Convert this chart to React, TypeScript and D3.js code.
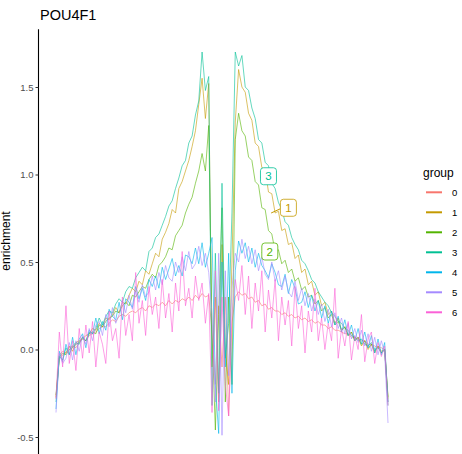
import React, { useEffect, useRef } from "react";
import * as d3 from "d3";

const groups = ["0", "1", "2", "3", "4", "5", "6"];
const colors = ["#F8766D", "#C49A00", "#53B400", "#00C094", "#00B6EB", "#A58AFF", "#FB61D7"];
const positions = d3.range(-250, 251, 5);
const yTicks = [-0.5, 0, 0.5, 1, 1.5];
const yTickLabels = ["-0.5", "0.0", "0.5", "1.0", "1.5"];

const g0 = [-0.28, -0.03, -0.01, -0.02, 0.01, 0.02, 0.01, 0.04, 0.06, 0.05,
  0.08, 0.09, 0.10, 0.12, 0.13, 0.13, 0.15, 0.17, 0.16, 0.19,
  0.20, 0.19, 0.21, 0.22, 0.21, 0.23, 0.24, 0.22, 0.25, 0.24,
  0.26, 0.25, 0.27, 0.25, 0.28, 0.26, 0.28, 0.27, 0.29, 0.28,
  0.30, 0.28, 0.31, 0.29, 0.32, 0.30, 0.31, 0.10, -0.20, 0.25,
  -0.10, 0.30, -0.38, 0.15, 0.30, 0.33, 0.31, 0.32, 0.29, 0.30,
  0.27, 0.28, 0.25, 0.26, 0.23, 0.24, 0.22, 0.22, 0.20, 0.21,
  0.19, 0.20, 0.18, 0.19, 0.17, 0.18, 0.16, 0.17, 0.15, 0.16,
  0.14, 0.14, 0.12, 0.13, 0.11, 0.11, 0.10, 0.09, 0.09, 0.07,
  0.07, 0.06, 0.05, 0.05, 0.03, 0.03, 0.02, 0.01, 0.01, 0.00,
  -0.30];
const g1 = [-0.27, -0.05, -0.03, -0.02, 0.02, -0.01, 0.04, 0.05, 0.06, 0.08,
  0.09, 0.12, 0.11, 0.15, 0.13, 0.18, 0.17, 0.20, 0.24, 0.21,
  0.27, 0.26, 0.31, 0.35, 0.33, 0.39, 0.37, 0.45, 0.43, 0.49,
  0.55, 0.53, 0.63, 0.67, 0.72, 0.80, 0.78, 0.92, 0.96, 1.02,
  1.08, 1.16, 1.25, 1.40, 1.55, 1.32, 1.52, -0.10, 0.30, -0.30,
  0.60, 0.00, -0.20, 0.50, 1.30, 1.60, 1.50, 1.47, 1.35, 1.31,
  1.18, 1.16, 1.04, 1.03, 0.90, 0.89, 0.78, 0.79, 0.68, 0.69,
  0.60, 0.61, 0.52, 0.54, 0.44, 0.46, 0.37, 0.39, 0.31, 0.33,
  0.25, 0.27, 0.20, 0.22, 0.15, 0.18, 0.11, 0.13, 0.08, 0.10,
  0.05, 0.07, 0.02, 0.05, 0.00, 0.03, -0.02, 0.02, -0.01, 0.00,
  -0.28];
const g2 = [-0.26, -0.04, -0.02, -0.03, 0.00, 0.01, 0.03, 0.04, 0.07, 0.05,
  0.09, 0.10, 0.09, 0.14, 0.13, 0.16, 0.18, 0.19, 0.22, 0.21,
  0.25, 0.27, 0.25, 0.31, 0.30, 0.33, 0.36, 0.35, 0.40, 0.43,
  0.41, 0.48, 0.50, 0.53, 0.58, 0.57, 0.65, 0.68, 0.71, 0.78,
  0.83, 0.87, 0.95, 1.02, 1.12, 1.02, 1.28, 0.10, -0.46, 0.20,
  0.81, -0.30, 0.30, -0.20, 1.20, 1.35, 1.25, 1.22, 1.10, 1.08,
  0.96, 0.94, 0.81, 0.80, 0.68, 0.66, 0.56, 0.57, 0.49, 0.51,
  0.44, 0.46, 0.39, 0.41, 0.34, 0.36, 0.30, 0.31, 0.26, 0.28,
  0.22, 0.24, 0.18, 0.20, 0.14, 0.16, 0.11, 0.13, 0.08, 0.10,
  0.05, 0.07, 0.03, 0.05, 0.01, 0.03, -0.01, 0.02, -0.02, 0.00,
  -0.27];
const g3 = [-0.30, -0.04, -0.06, 0.01, -0.03, 0.02, 0.04, 0.03, 0.07, 0.05,
  0.10, 0.09, 0.12, 0.18, 0.14, 0.19, 0.22, 0.21, 0.26, 0.29,
  0.27, 0.33, 0.36, 0.35, 0.41, 0.44, 0.47, 0.45, 0.56, 0.58,
  0.64, 0.66, 0.71, 0.76, 0.82, 0.85, 0.92, 0.98, 1.05, 1.08,
  1.18, 1.22, 1.34, 1.42, 1.70, 1.48, 1.56, -0.32, 0.55, -0.25,
  0.95, -0.05, 0.15, 0.78, 1.70, 1.62, 1.68, 1.50, 1.48, 1.38,
  1.32, 1.20, 1.18, 1.07, 1.05, 0.95, 0.92, 0.84, 0.80, 0.73,
  0.71, 0.64, 0.60, 0.57, 0.51, 0.49, 0.45, 0.40, 0.38, 0.33,
  0.30, 0.27, 0.25, 0.21, 0.19, 0.16, 0.15, 0.12, 0.11, 0.08,
  0.07, 0.05, 0.06, 0.03, 0.02, 0.04, 0.00, 0.01, -0.02, 0.00,
  -0.32];
const g4 = [-0.34, -0.01, -0.07, 0.03, -0.03, 0.07, -0.03, 0.06, 0.09, 0.01,
  0.11, 0.09, 0.18, 0.09, 0.16, 0.11, 0.23, 0.19, 0.17, 0.27,
  0.17, 0.29, 0.27, 0.24, 0.36, 0.29, 0.35, 0.28, 0.40, 0.36,
  0.42, 0.35, 0.47, 0.40, 0.46, 0.52, 0.42, 0.48, 0.42, 0.54,
  0.53, 0.49, 0.58, 0.49, 0.61, 0.47, 0.55, 0.64, -0.20, -0.48,
  0.50, -0.10, 0.55, -0.25, 0.45, 0.62, 0.55, 0.61, 0.50, 0.58,
  0.47, 0.55, 0.48, 0.45, 0.41, 0.49, 0.44, 0.37, 0.36, 0.43,
  0.32, 0.40, 0.35, 0.26, 0.27, 0.33, 0.24, 0.31, 0.22, 0.28,
  0.18, 0.25, 0.15, 0.22, 0.14, 0.19, 0.10, 0.17, 0.08, 0.14,
  0.05, 0.12, 0.03, 0.10, 0.01, 0.08, -0.02, 0.06, -0.03, 0.04,
  -0.30];
const g5 = [-0.36, -0.02, -0.08, -0.05, 0.04, -0.06, 0.05, -0.01, 0.08, 0.03,
  0.12, 0.05, 0.14, 0.16, 0.08, 0.20, 0.13, 0.24, 0.15, 0.20,
  0.28, 0.21, 0.31, 0.23, 0.33, 0.27, 0.37, 0.30, 0.33, 0.42,
  0.34, 0.44, 0.37, 0.48, 0.41, 0.39, 0.50, 0.44, 0.53, 0.45,
  0.56, 0.46, 0.49, 0.59, 0.48, 0.55, 0.44, 0.20, -0.30, 0.55,
  -0.49, 0.45, -0.15, 0.35, 0.55, 0.50, 0.63, 0.52, 0.59, 0.49,
  0.57, 0.45, 0.53, 0.43, 0.40, 0.50, 0.39, 0.45, 0.34, 0.42,
  0.33, 0.30, 0.39, 0.28, 0.35, 0.25, 0.32, 0.22, 0.29, 0.20,
  0.26, 0.16, 0.23, 0.13, 0.21, 0.12, 0.18, 0.09, 0.15, 0.06,
  0.12, 0.04, 0.11, 0.02, 0.09, -0.01, 0.07, -0.03, 0.05, -0.02,
  -0.42];
const g6 = [-0.28, 0.10, -0.10, 0.25, -0.08, 0.05, -0.12, 0.12, -0.05, 0.14,
  -0.02, 0.16, -0.10, 0.10, 0.03, -0.08, 0.22, 0.05, 0.12, -0.05,
  0.30, 0.08, 0.20, 0.05, 0.44, 0.15, 0.28, 0.08, 0.36, 0.20,
  0.30, 0.12, 0.40, 0.18, 0.32, 0.10, 0.38, 0.22, 0.56, 0.25,
  0.35, 0.18, 0.42, 0.28, 0.38, 0.15, 0.32, -0.36, 0.45, -0.35,
  0.30, -0.20, -0.38, 0.20, 0.40, 0.28, 0.48, 0.20, 0.42, 0.12,
  0.38, 0.22, 0.45, 0.10, 0.34, 0.18, 0.40, 0.05, 0.30, 0.14,
  0.28, 0.02, 0.36, 0.12, 0.25, -0.02, 0.22, 0.10, 0.35, 0.05,
  0.18, 0.00, 0.15, 0.05, 0.35, -0.05, 0.12, 0.02, 0.16, -0.06,
  0.08, 0.00, 0.20, -0.07, 0.06, 0.10, -0.08, 0.04, -0.04, 0.02,
  -0.32];
const series = [g0, g1, g2, g3, g4, g5, g6];

// repel-style labels: box centre (x, y) and the point the segment reaches
const labelGroups = ["3", "1", "2"];
const labelX = [70, 100, 72];
const labelY = [0.99, 0.81, 0.56];
const labelPointX = [70, 74, 72];
const labelPointY = [0.99, 0.78, 0.56];

export default function App() {
  const ref = useRef<SVGSVGElement>(null);

  useEffect(() => {
    const svg = d3.select(ref.current);
    svg.selectAll("*").remove();

    const x = d3.scaleLinear().domain([-250, 250]).range([56, 388]);
    const y = d3.scaleLinear().domain([-0.59, 1.83]).range([452.75, 29.25]);
    const color = d3.scaleOrdinal<string, string>().domain(groups).range(colors);
    const font = "Liberation Sans, Arial, sans-serif";

    const line = d3.line<number>()
      .x((d, i) => x(positions[i]))
      .y(d => y(d));

    svg.append("g")
      .selectAll("path")
      .data(series)
      .join("path")
      .attr("d", d => line(d))
      .attr("fill", "none")
      .attr("stroke", (d, i) => color(groups[i]))
      .attr("stroke-width", 0.75)
      .attr("stroke-opacity", 0.8)
      .attr("stroke-linejoin", "round");

    // y axis
    const yAxis = d3.axisLeft(y)
      .tickValues(yTicks)
      .tickFormat((d, i) => yTickLabels[i])
      .tickSize(3)
      .tickPadding(2);
    const yAxisG = svg.append("g").attr("transform", "translate(38.5,0)").call(yAxis);
    yAxisG.select(".domain").attr("stroke", "#000").attr("stroke-width", 1.1)
      .attr("d", `M0,${29.25}V${454}`);
    yAxisG.selectAll(".tick line").attr("stroke", "#333").attr("stroke-width", 1);
    yAxisG.selectAll(".tick text")
      .attr("fill", "#4D4D4D")
      .attr("font-size", 9.5)
      .attr("font-family", font);

    // labels
    const labels = svg.append("g")
      .selectAll("g")
      .data(labelGroups)
      .join("g");
    labels.append("line")
      .attr("x1", (d, i) => x(labelPointX[i]))
      .attr("y1", (d, i) => y(labelPointY[i]))
      .attr("x2", (d, i) => x(labelX[i]) - 8)
      .attr("y2", (d, i) => y(labelY[i]) + 1)
      .attr("stroke", d => color(d))
      .attr("stroke-width", 1);
    labels.append("rect")
      .attr("x", (d, i) => x(labelX[i]) - 8)
      .attr("y", (d, i) => y(labelY[i]) - 8.5)
      .attr("width", 16)
      .attr("height", 17)
      .attr("rx", 3)
      .attr("fill", "#fff")
      .attr("stroke", d => color(d))
      .attr("stroke-width", 0.8);
    labels.append("text")
      .attr("x", (d, i) => x(labelX[i]))
      .attr("y", (d, i) => y(labelY[i]) + 4)
      .attr("text-anchor", "middle")
      .attr("font-size", 11.5)
      .attr("font-family", font)
      .attr("fill", d => color(d))
      .text(d => d);

    // title and axis title
    svg.append("text")
      .attr("x", 40).attr("y", 19.5)
      .attr("font-size", 14.5)
      .attr("font-family", font)
      .attr("fill", "#000")
      .text("POU4F1");
    svg.append("text")
      .attr("transform", "translate(10,241) rotate(-90)")
      .attr("text-anchor", "middle")
      .attr("font-size", 12)
      .attr("font-family", font)
      .attr("fill", "#000")
      .text("enrichment");

    // legend
    const legend = svg.append("g").attr("transform", "translate(423,0)");
    legend.append("text")
      .attr("x", 0).attr("y", 177)
      .attr("font-size", 12)
      .attr("font-family", font)
      .text("group");
    const keys = legend.selectAll("g.key")
      .data(groups)
      .join("g")
      .attr("class", "key")
      .attr("transform", (d, i) => `translate(0,${192.3 + i * 20})`);
    keys.append("line")
      .attr("x1", 3).attr("x2", 19)
      .attr("stroke", d => color(d))
      .attr("stroke-width", 2);
    keys.append("text")
      .attr("x", 29).attr("y", 3.5)
      .attr("font-size", 9.5)
      .attr("font-family", font)
      .attr("fill", "#000")
      .text(d => d);
  }, []);

  return (
    <svg ref={ref} width={462} height={454}
      style={{ position: "absolute", left: 0, top: 0, background: "#fff" }} />
  );
}
